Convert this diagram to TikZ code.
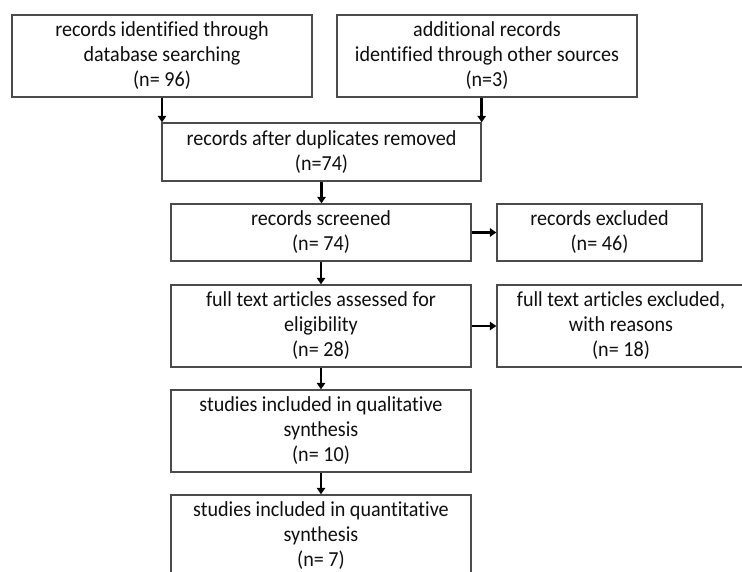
\documentclass[tikz,border=0pt]{standalone}
\usepackage{fontspec}
\setmainfont[Ligatures=NoCommon, FakeStretch=0.94]{Carlito}
\usetikzlibrary{arrows.meta}
\definecolor{boxline}{RGB}{75,75,75}
\definecolor{txt}{RGB}{15,15,15}
\tikzset{
  flowbox/.style={draw=boxline, line width=1.4pt, rectangle, inner sep=0pt,
    align=center, text=txt, font=\fontsize{21.4}{25}\selectfont},
  arr/.style={draw=black, line width=2.6pt, -{Triangle[length=6.5pt,width=8.5pt]}}
}
\begin{document}
\begin{tikzpicture}[x=1pt,y=-1pt]
\useasboundingbox (0,0) rectangle (742,572);
\clip (0,0) rectangle (742,572);
\fill[white] (0,0) rectangle (742,572);
\node[flowbox, minimum width=300pt, minimum height=82pt] (b1) at (162,56)
  {records identified through\\database searching\\(n= 96)};
\node[flowbox, minimum width=300pt, minimum height=82pt] (b2) at (487,56)
  {additional records\\identified through other sources\\(n=3)};
\node[flowbox, minimum width=319pt, minimum height=58pt] (b3) at (321.5,152)
  {records after duplicates removed\\(n=74)};
\node[flowbox, minimum width=300pt, minimum height=57pt] (b4) at (321,232.5)
  {records screened\\(n= 74)};
\node[flowbox, minimum width=205pt, minimum height=57pt] (b5) at (599.5,232.5)
  {records excluded\\(n= 46)};
\node[flowbox, minimum width=300pt, minimum height=82pt] (b6) at (321,326)
  {full text articles assessed for\\eligibility\\(n= 28)};
\node[flowbox, minimum width=248pt, minimum height=82pt] (b7) at (621,326)
  {full text articles excluded,\\with reasons\\(n= 18)};
\node[flowbox, minimum width=300pt, minimum height=82pt] (b8) at (321,431)
  {studies included in qualitative\\synthesis\\(n= 10)};
\node[flowbox, minimum width=300pt, minimum height=82pt] (b9) at (321,536)
  {studies included in quantitative\\synthesis\\(n= 7)};
\draw[arr] (b1.south) -- (b1.south |- b3.north);
\draw[arr] (b3.north east |- b2.south) -- (b3.north east);
\draw[arr] (b3.south) -- (b3.south |- b4.north);
\draw[arr] (b4.east) -- (b5.west);
\draw[arr] (b4.south) -- (b6.north);
\draw[arr] (b6.east) -- (b7.west);
\draw[arr] (b6.south) -- (b8.north);
\draw[arr] (b8.south) -- (b9.north);
\end{tikzpicture}
\end{document}
